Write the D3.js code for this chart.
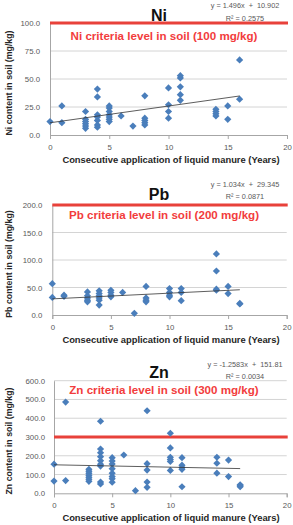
<!DOCTYPE html>
<html>
<head>
<meta charset="utf-8">
<script src="https://cdn.jsdelivr.net/npm/d3@7"></script>
<style>
  body { margin: 0; background: #fff; }
  svg { display: block; font-family: 'Liberation Sans', Arial, sans-serif; }
  .tick text { fill: #595959; font-size: 7.8px; }
  .domain { stroke: #a6a6a6; }
  .tick line { stroke: #a6a6a6; }
</style>
</head>
<body>
<div id="chart"></div>
<script>
// years of consecutive liquid manure application (x positions shared by groups)
const years = [0, 1, 3, 4, 5, 6, 7, 8, 10, 11, 14, 15, 16]

// heavy metal content in soil (mg/kg), one list per year above
const niValues = [
  [12], [26, 11], [21, 14, 12, 10, 8, 6], [41, 34, 18, 16, 13, 9, 7],
  [26, 24, 21, 18, 16, 14, 12], [17], [8], [35, 15, 13, 11, 9],
  [42, 27, 21, 15], [53, 51, 43, 36, 31], [23, 21, 19, 17], [26, 14], [67, 32]
]
const pbValues = [
  [57, 32], [36, 34], [42, 35, 31, 27, 24], [44, 39, 35, 31, 27, 18],
  [45, 41, 36, 33], [41], [3], [52, 31, 27, 24],
  [48, 41, 36, 33], [48, 41, 26], [111, 80, 47, 45], [52, 39], [21, 20]
]
const znValues = [
  [155, 65], [486, 68], [128, 118, 107, 96, 85, 75, 64],
  [384, 236, 216, 195, 174, 155, 145, 60, 50],
  [190, 172, 156, 131, 107, 89, 78, 59], [204], [14], [440, 158, 124, 60, 32],
  [320, 242, 192, 180, 170, 122], [190, 150, 137, 128, 35], [192, 160, 107], [177, 89], [45, 40, 35]
]

const xTicks = [0, 5, 10, 15, 20]
const niTicks = [0, 25, 50, 75, 100]
const pbTicks = [0, 50, 100, 150, 200]
const znTicks = [0, 100, 200, 300, 400, 500, 600]

// regression: [slope, intercept], R²
const niTrend = [1.496, 10.902, '0.2575']
const pbTrend = [1.034, 29.345, '0.0871']
const znTrend = [-1.2583, 151.81, '0.0034']

const width = 293
const height = 525

const svg = d3.select('#chart').append('svg')
  .attr('width', width)
  .attr('height', height)

function drawPanel (opts) {
  const x = d3.scaleLinear().domain([0, 20]).range([opts.left, opts.right])
  const y = d3.scaleLinear().domain([0, d3.max(opts.yTicks)]).range([opts.bottom, opts.top])
  const g = svg.append('g')

  // gridlines
  g.append('g').selectAll('line').data(opts.yTicks.slice(1))
    .join('line')
    .attr('x1', opts.left).attr('x2', opts.right)
    .attr('y1', (d) => y(d)).attr('y2', (d) => y(d))
    .attr('stroke', '#d4d4d4')

  g.append('g')
    .attr('transform', `translate(0,${opts.bottom})`)
    .call(d3.axisBottom(x).tickValues(xTicks).tickSize(4).tickPadding(5))

  g.append('g')
    .attr('transform', `translate(${opts.left},0)`)
    .call(d3.axisLeft(y).tickValues(opts.yTicks).tickFormat(d3.format('.1f')).tickSize(0).tickPadding(opts.tickPad))

  // criteria line
  g.append('line')
    .attr('x1', opts.left).attr('x2', opts.right + 1)
    .attr('y1', y(opts.limit)).attr('y2', y(opts.limit))
    .attr('stroke', '#e8413a')
    .attr('stroke-width', 3)

  // points
  const pts = d3.merge(years.map((yr, i) => opts.values[i].map((v) => ({ yr, v }))))
  g.append('g').selectAll('path').data(pts)
    .join('path')
    .attr('d', 'M0,-3.6L3.6,0L0,3.6L-3.6,0Z')
    .attr('transform', (d) => `translate(${x(d.yr)},${y(d.v)})`)
    .attr('fill', '#4a7ebb')

  // trend line
  const [a, b, r2] = opts.trend
  g.append('line')
    .attr('x1', x(0)).attr('x2', x(16))
    .attr('y1', y(b)).attr('y2', y(a * 16 + b))
    .attr('stroke', '#333')
    .attr('stroke-width', 0.8)

  const eq = `y = ${a}x  ${b < 0 ? '-' : '+'}  ${Math.abs(b)}`
  g.append('text')
    .attr('x', 245).attr('y', opts.eqY)
    .attr('text-anchor', 'middle')
    .attr('font-size', 7.3)
    .attr('fill', '#595959')
    .attr('xml:space', 'preserve')
    .text(eq)

  g.append('text')
    .attr('x', 245).attr('y', opts.eqY + 12.5)
    .attr('text-anchor', 'middle')
    .attr('font-size', 7.3)
    .attr('fill', '#595959')
    .text(`R² = ${r2}`)

  g.append('text')
    .attr('x', 159).attr('y', opts.titleY)
    .attr('text-anchor', 'middle')
    .attr('font-size', 16)
    .attr('font-weight', 'bold')
    .attr('fill', '#111')
    .text(opts.name)

  g.append('text')
    .attr('x', 164).attr('y', opts.labelY)
    .attr('text-anchor', 'middle')
    .attr('font-size', 11.6)
    .attr('font-weight', 'bold')
    .attr('fill', '#f23c3c')
    .text(`${opts.name} criteria level in soil (${opts.limit} mg/kg)`)

  g.append('text')
    .attr('x', 171).attr('y', opts.bottom + 28)
    .attr('text-anchor', 'middle')
    .attr('font-size', 9.4)
    .attr('font-weight', 'bold')
    .attr('fill', '#262626')
    .text('Consecutive application of liquid manure (Years)')

  g.append('text')
    .attr('transform', `translate(12,${(opts.top + opts.bottom) / 2 + 4}) rotate(-90)`)
    .attr('text-anchor', 'middle')
    .attr('font-size', 8.8)
    .attr('font-weight', 'bold')
    .attr('fill', '#262626')
    .text(`${opts.name} content in soil (mg/kg)`)
}

drawPanel({ name: 'Ni', values: niValues, yTicks: niTicks, trend: niTrend, limit: 100,
  left: 50, right: 287, top: 23, bottom: 135, tickPad: 10, eqY: 8, titleY: 21, labelY: 40 })
drawPanel({ name: 'Pb', values: pbValues, yTicks: pbTicks, trend: pbTrend, limit: 200,
  left: 52.3, right: 286.7, top: 205, bottom: 315, tickPad: 10, eqY: 186.5, titleY: 200, labelY: 219 })
drawPanel({ name: 'Zn', values: znValues, yTicks: znTicks, trend: znTrend, limit: 300,
  left: 54, right: 286.7, top: 380.7, bottom: 493.3, tickPad: 9, eqY: 366.5, titleY: 378, labelY: 394 })
</script>
</body>
</html>
